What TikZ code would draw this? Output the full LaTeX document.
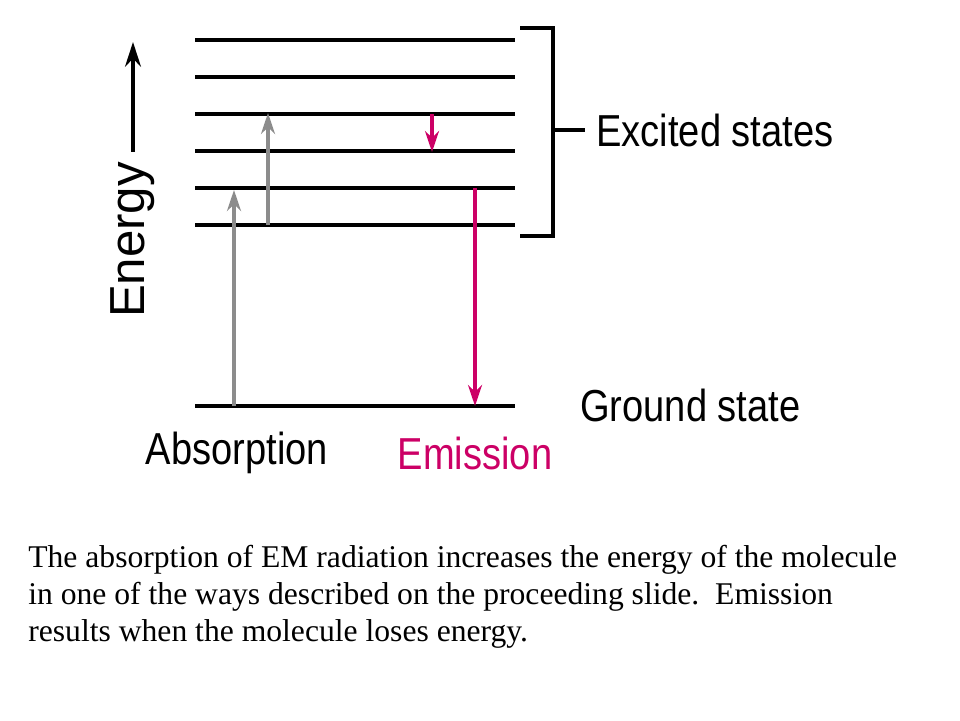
\documentclass[tikz,border=0pt]{standalone}
\usepackage{fontspec}
\setmainfont{Liberation Serif}
\setsansfont{Liberation Sans}
\usetikzlibrary{arrows.meta,positioning}
\definecolor{emit}{RGB}{204,0,102}
\definecolor{absorb}{RGB}{140,140,140}
\tikzset{
  level/.style={line width=2.2pt},
  lbl/.style={font=\sffamily\fontsize{25.5}{27}\selectfont, inner sep=0pt, xscale=0.85},
  up/.style={absorb, line width=2pt, -{Stealth[length=12pt,width=8pt]}},
  down/.style={emit, line width=2pt, -{Stealth[length=12pt,width=8pt]}},
  caption/.style={anchor=west, inner sep=0pt, font=\fontsize{18}{21}\selectfont}
}
\begin{document}
\begin{tikzpicture}[x=0.02cm,y=-0.02cm]
    \useasboundingbox (0,0) rectangle (960,720);
    % energy levels
    \foreach \n/\y in {1/225,2/188,3/151,4/114,5/77,6/40}
        {\coordinate (l\n a) at (195,\y); \coordinate (l\n b) at (515,\y);
         \draw[level] (l\n a) -- (l\n b);}
    \coordinate (g a) at (195,406);
    \coordinate (g b) at (515,406);
    \draw[level] (g a) -- (g b);

    % bracket
    \coordinate (br1) at (520,28);
    \coordinate (br2) at (553,28);
    \coordinate (br3) at (553,236);
    \coordinate (br4) at (520,236);
    \coordinate (brm) at (553,130);
    \coordinate (brt) at (585,130);
    \draw[level] (br1) -- (br2) -- (br3) -- (br4);
    \draw[level] (brm) -- (brt);
    \node[lbl, anchor=west] (excited) at (596,130) {Excited states};
    \node[lbl, anchor=west] (ground) at (580,405) {Ground state};

    % energy axis
    \node[font=\sffamily\fontsize{28}{30}\selectfont, inner sep=0pt, rotate=90] (energy) at (133,240) {Energy};
    \coordinate (ax) at (133,42);
    \draw[level, -{Stealth[length=14pt,width=9pt]}] (energy.east) ++(0,-10) -- (ax);

    % transitions
    \coordinate (a1s) at (234,406);
    \coordinate (a1e) at (234,190);
    \coordinate (a2s) at (268,225);
    \coordinate (a2e) at (268,113);
    \coordinate (e1s) at (432,114);
    \coordinate (e1e) at (432,152);
    \coordinate (e2s) at (475,188);
    \coordinate (e2e) at (475,406);
    \draw[up] (a1s) -- (a1e);
    \draw[up] (a2s) -- (a2e);
    \draw[down] (e1s) -- (e1e);
    \draw[down] (e2s) -- (e2e);

    \node[lbl] (absorption) at (237,453) {Absorption};
    \node[lbl, text=emit] (emission) at (475,453) {Emission};

    % caption
    \node[caption] (cap1) at (28,560) {The absorption of EM radiation increases the energy of the molecule};
    \node[caption] (cap2) at (28,597) {in one of the ways described on the proceeding slide.\ \ Emission};
    \node[caption] (cap3) at (28,634) {results when the molecule loses energy.};
\end{tikzpicture}
\end{document}
